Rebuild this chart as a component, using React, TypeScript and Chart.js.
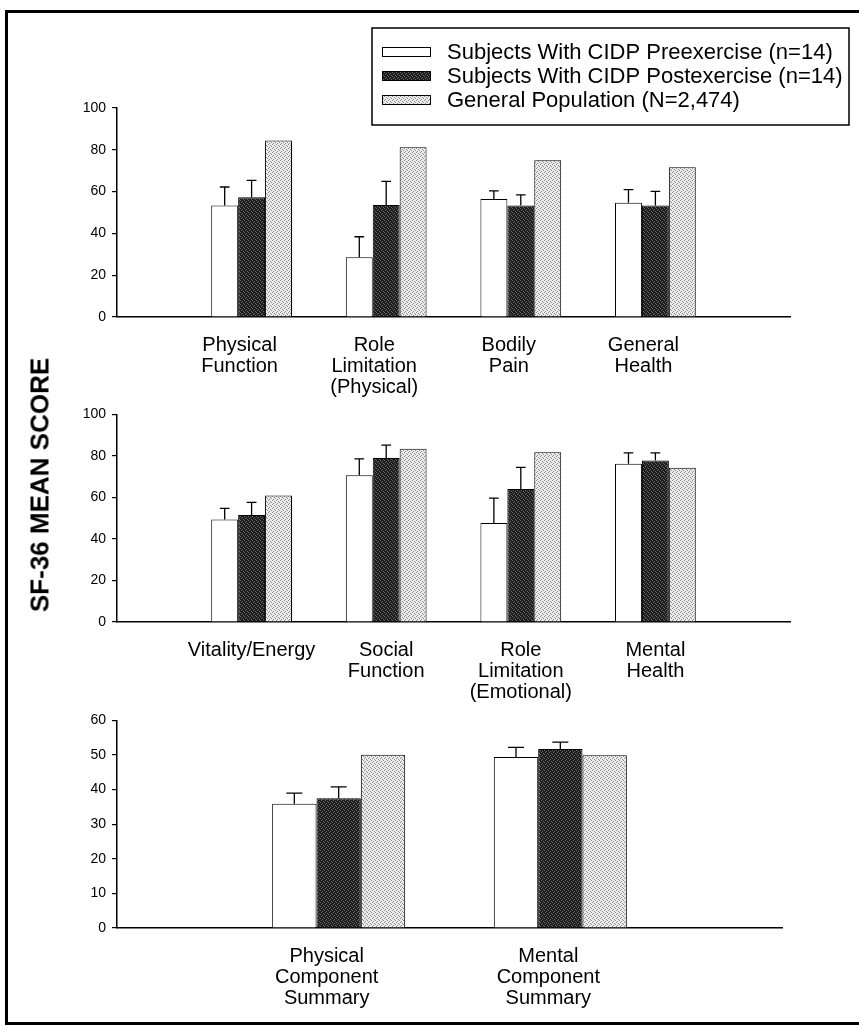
import React, { useEffect, useRef } from 'react';
import { Chart, registerables } from 'chart.js';

Chart.register(...registerables);

const FONT = '"Liberation Sans", Arial, Helvetica, sans-serif';

// ---------- data ----------
const seriesNames = [
  'Subjects With CIDP Preexercise (n=14)',
  'Subjects With CIDP Postexercise (n=14)',
  'General Population (N=2,474)',
];

const p1Labels: (string | string[])[] = ['', ['Physical', 'Function'], ['Role', 'Limitation', '(Physical)'], ['Bodily', 'Pain'], ['General', 'Health'], ''];
const p1Pre = [null, 53.3, 28.6, 56.5, 54.7, null];
const p1PreErr = [null, 62.2, 38.4, 60.3, 60.9, null];
const p1Post = [null, 57.3, 53.6, 53.4, 53.4, null];
const p1PostErr = [null, 65.4, 64.9, 58.4, 60.1, null];
const p1Gen = [null, 84.4, 81.2, 75.0, 71.6, null];

const p2Labels: (string | string[])[] = ['', ['Vitality/Energy'], ['Social', 'Function'], ['Role', 'Limitation', '(Emotional)'], ['Mental', 'Health'], ''];
const p2Pre = [null, 49.4, 70.7, 47.7, 76.2, null];
const p2PreErr = [null, 54.7, 78.6, 59.7, 81.5, null];
const p2Post = [null, 51.5, 79.0, 64.1, 77.8, null];
const p2PostErr = [null, 57.6, 85.2, 74.5, 81.5, null];
const p2Gen = [null, 60.9, 83.5, 81.8, 74.3, null];

const p3Labels: (string | string[])[] = ['', ['Physical', 'Component', 'Summary'], ['Mental', 'Component', 'Summary'], ''];
const p3Pre = [null, 35.9, 49.4, null];
const p3PreErr = [null, 39.0, 52.2, null];
const p3Post = [null, 37.5, 51.7, null];
const p3PostErr = [null, 40.8, 53.7, null];
const p3Gen = [null, 50.1, 49.9, null];

const yTitle = 'SF-36 MEAN SCORE';

// ---------- styles ----------
function makePattern(base: string, dot: string, dots: number[][]): CanvasPattern | string {
  const c = document.createElement('canvas');
  c.width = 4;
  c.height = 4;
  const g = c.getContext('2d');
  if (!g) return base;
  g.fillStyle = base;
  g.fillRect(0, 0, 4, 4);
  g.fillStyle = dot;
  dots.forEach(([x, y]) => g.fillRect(x, y, 1, 1));
  const p = g.createPattern(c, 'repeat');
  return p || base;
}

const errorBarPlugin = {
  id: 'errorBars',
  afterDatasetsDraw(chart: any, _args: any, opts: any) {
    const tops: (number | null)[][] = opts && opts.tops ? opts.tops : [];
    const ctx = chart.ctx;
    const y = chart.scales.y;
    ctx.save();
    ctx.strokeStyle = '#000';
    ctx.lineWidth = 1.3;
    tops.forEach((arr, di) => {
      if (!arr) return;
      const meta = chart.getDatasetMeta(di);
      meta.data.forEach((el: any, j: number) => {
        const v = arr[j];
        if (v == null) return;
        const x = el.x;
        const y0 = el.y;
        const y1 = y.getPixelForValue(v);
        const half = el.width * 0.18;
        ctx.beginPath();
        ctx.moveTo(x, y0);
        ctx.lineTo(x, y1);
        ctx.moveTo(x - half, y1);
        ctx.lineTo(x + half, y1);
        ctx.stroke();
      });
    });
    ctx.restore();
  },
};

const legendBoxPlugin = {
  id: 'legendBox',
  afterDraw(chart: any, _args: any, opts: any) {
    if (!opts || !opts.show) return;
    const ctx = chart.ctx;
    const bx = 372, by = 28, bw = 477, bh = 97;
    ctx.save();
    ctx.strokeStyle = '#000';
    ctx.lineWidth = 1.5;
    ctx.strokeRect(bx, by, bw, bh);
    const rows = [52, 76, 100];
    chart.data.datasets.forEach((ds: any, i: number) => {
      const ry = rows[i];
      ctx.fillStyle = ds.backgroundColor;
      ctx.fillRect(382, ry - 4, 48, 8);
      ctx.lineWidth = 1;
      ctx.strokeRect(382.5, ry - 4.5, 48, 9);
      ctx.fillStyle = '#000';
      ctx.font = `22px ${FONT}`;
      ctx.textBaseline = 'middle';
      ctx.textAlign = 'left';
      ctx.fillText(ds.label, 447, ry + 1);
    });
    ctx.restore();
  },
};

function buildChart(
  canvas: HTMLCanvasElement,
  labels: (string | string[])[],
  pre: (number | null)[],
  post: (number | null)[],
  gen: (number | null)[],
  preErr: (number | null)[],
  postErr: (number | null)[],
  yMax: number,
  step: number,
  padTop: number,
  padRight: number,
  xHeight: number,
  labelOffset: number,
  showLegend: boolean,
) {
  const dark = makePattern('#1c1c1c', '#6a6a6a', [[0, 0], [2, 1], [1, 2], [3, 3]]);
  const light = makePattern('#ececec', '#8c8c8c', [[0, 0], [2, 1], [1, 3], [3, 2]]);
  return new Chart(canvas, {
    type: 'bar',
    data: {
      labels: labels as any,
      datasets: [
        { label: seriesNames[0], data: pre, backgroundColor: '#ffffff', borderColor: '#000', borderWidth: 1, categoryPercentage: 0.6, barPercentage: 1 },
        { label: seriesNames[1], data: post, backgroundColor: dark as any, borderColor: '#000', borderWidth: 1, categoryPercentage: 0.6, barPercentage: 1 },
        { label: seriesNames[2], data: gen, backgroundColor: light as any, borderColor: '#000', borderWidth: 1, categoryPercentage: 0.6, barPercentage: 1 },
      ],
    },
    options: {
      responsive: false,
      animation: false,
      layout: { padding: { top: padTop, right: padRight, left: 0, bottom: 0 } },
      plugins: {
        legend: { display: false },
        tooltip: { enabled: false },
        errorBars: { tops: [preErr, postErr, null] },
        legendBox: { show: showLegend },
      } as any,
      scales: {
        x: {
          offset: false,
          grid: { display: false, drawTicks: false },
          border: { display: true, color: '#000', width: 1.5 },
          ticks: {
            autoSkip: false,
            maxRotation: 0,
            minRotation: 0,
            padding: 18,
            labelOffset,
            color: '#000',
            font: { family: FONT, size: 20, lineHeight: 1.05 },
          },
          afterFit: (s: any) => { s.height = xHeight; },
        },
        y: {
          min: 0,
          max: yMax,
          grid: { display: true, drawOnChartArea: false, drawTicks: true, tickLength: 5, color: '#000', lineWidth: 1.2 },
          border: { display: true, color: '#000', width: 1.5 },
          ticks: { stepSize: step, padding: 6, color: '#000', font: { family: FONT, size: 14 } },
          afterFit: (s: any) => { s.width = 117; },
        },
      },
    } as any,
    plugins: [errorBarPlugin, legendBoxPlugin],
  });
}

export default function App() {
  const r1 = useRef<HTMLCanvasElement>(null);
  const r2 = useRef<HTMLCanvasElement>(null);
  const r3 = useRef<HTMLCanvasElement>(null);

  useEffect(() => {
    const charts: Chart[] = [];
    if (r1.current) charts.push(buildChart(r1.current, p1Labels, p1Pre, p1Post, p1Gen, p1PreErr, p1PostErr, 100, 20, 108, 69, 83, -12, true));
    if (r2.current) charts.push(buildChart(r2.current, p2Labels, p2Pre, p2Post, p2Gen, p2PreErr, p2PostErr, 100, 20, 13, 69, 89, 0, false));
    if (r3.current) charts.push(buildChart(r3.current, p3Labels, p3Pre, p3Post, p3Gen, p3PreErr, p3PostErr, 60, 10, 13, 77, 98, -12, false));
    return () => charts.forEach((c) => c.destroy());
  }, []);

  return (
    <div style={{ position: 'absolute', left: 0, top: 0, width: 859, height: 1026, overflow: 'hidden', background: '#fff', fontFamily: FONT }}>
      <div style={{ position: 'absolute', left: 5, top: 10, width: 900, height: 1009, borderTop: '3px solid #000', borderLeft: '3px solid #000', borderBottom: '3px solid #000' }} />
      <canvas ref={r1} width={859} height={400} style={{ position: 'absolute', left: 0, top: 0 }} />
      <canvas ref={r2} width={859} height={311} style={{ position: 'absolute', left: 0, top: 400 }} />
      <canvas ref={r3} width={859} height={320} style={{ position: 'absolute', left: 0, top: 706 }} />
      <div style={{ position: 'absolute', left: 40, top: 485, transform: 'translate(-50%, -50%) rotate(-90deg)', whiteSpace: 'nowrap', fontWeight: 'bold', fontSize: 26, color: '#000' }}>{yTitle}</div>
    </div>
  );
}
